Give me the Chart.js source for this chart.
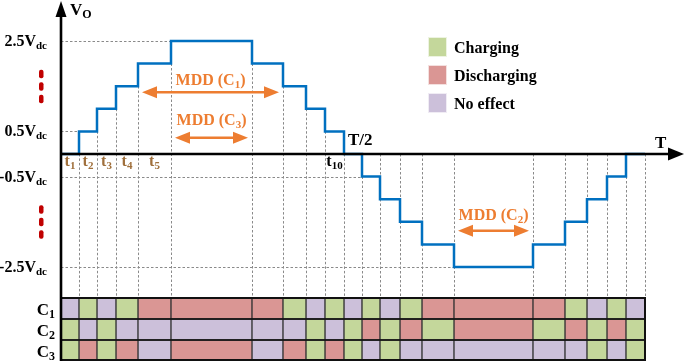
<!DOCTYPE html>
<html><head><meta charset="utf-8">
<script src="https://cdn.jsdelivr.net/npm/chart.js@4"></script>
<style>html,body{margin:0;padding:0;background:#fff}canvas{display:block}</style>
</head><body>
<canvas id="c" width="685" height="362"></canvas>
<script>
// ---------- data ----------
const times = [0,18,36,55,77,110,191,222,245,264,283,301,319,339,361,393,472,504,526,546,565,584];
const levels = [0,0.5,1,1.5,2,2.5,2,1.5,1,0.5,0,-0.5,-1,-1.5,-2,-2.5,-2,-1.5,-1,-0.5,0];
const rowNames = ['C1','C2','C3'];
const rowLabels = ['C_1','C_2','C_3'];
const c1States = ['N','C','N','C','D','D','D','C','N','C','N','C','N','C','D','D','D','C','N','C','N'];
const c2States = ['C','N','C','N','N','N','N','N','C','N','C','D','C','D','C','D','C','D','C','D','C'];
const c3States = ['C','D','C','D','N','D','N','D','C','D','C','N','C','N','N','N','N','N','C','N','C'];
const stateKeys = ['C','D','N'];
const legendLabels = ['Charging','Discharging','No effect'];
const yTickValues = [2.5,0.5,-0.5,-2.5];
const yTickLabels = ['2.5V_dc','0.5V_dc','-0.5V_dc','-2.5V_dc'];
const intervalLabels = ['t_1','t_2','t_3','t_4','t_5','','','','','t_10'];
const xMarkLabels = ['T/2','T'];
const xMarkIndex = [10,21];
const mddLabels = ['MDD (C_1_)','MDD (C_3_)','MDD (C_2_)'];
const mddFrom = [4,5,15];
const mddTo = [7,6,16];

// ---------- styles / layout ----------
const stateColors = {C:'#C4D79B', D:'#DA9694', N:'#CCC0DA'};
const ORANGE = '#ED7D31', BLUE = '#0070C0', BROWN = '#A0703C', DARKRED = '#C00000';
const mddArrowY = [1.365, 0.36, -1.70];
const mddTextY = [1.53, 0.64, -1.46];
const FONT = '"Liberation Serif","Times New Roman",serif';

const rows = [c1States, c2States, c3States];
function cellsFor(key){
  const out = [];
  rows.forEach((st, r) => st.forEach((s, i) => {
    if (s === key) out.push({x:[times[i], times[i+1]], y: rowNames[r]});
  }));
  return out;
}
const wave = levels.map((v, i) => ({x: times[i], y: v}));
wave.push({x: times[times.length-1], y: levels[levels.length-1]});

function rich(ctx, str, x, y, size, align, color){
  const parts = str.split('_');
  const sub = Math.round(size * 0.68);
  let w = 0;
  const segs = parts.map((t, i) => {
    const isSub = i % 2 === 1;
    ctx.font = 'bold ' + (isSub ? sub : size) + 'px ' + FONT;
    const m = ctx.measureText(t).width; w += m;
    return {t, isSub, m};
  });
  let cx = align === 'right' ? x - w : align === 'center' ? x - w/2 : x;
  ctx.fillStyle = color; ctx.textAlign = 'left'; ctx.textBaseline = 'alphabetic';
  segs.forEach(s => {
    ctx.font = 'bold ' + (s.isSub ? sub : size) + 'px ' + FONT;
    ctx.fillText(s.t, cx, y + (s.isSub ? Math.round(size*0.18) : 0));
    cx += s.m;
  });
}
function seg(ctx, x1, y1, x2, y2){ ctx.beginPath(); ctx.moveTo(x1,y1); ctx.lineTo(x2,y2); ctx.stroke(); }
function tri(ctx, pts){ ctx.beginPath(); ctx.moveTo(pts[0],pts[1]); ctx.lineTo(pts[2],pts[3]); ctx.lineTo(pts[4],pts[5]); ctx.closePath(); ctx.fill(); }

const deco = {
  id: 'deco',
  beforeDatasetsDraw(chart){
    const ctx = chart.ctx, X = chart.scales.x, Y = chart.scales.y;
    ctx.save();
    ctx.strokeStyle = '#8a8a8a'; ctx.lineWidth = 1; ctx.setLineDash([2.5, 2]);
    yTickValues.forEach(v => {
      const i = levels.indexOf(v);
      const py = Math.round(Y.getPixelForValue(v)) + 0.5;
      seg(ctx, X.getPixelForValue(0), py, X.getPixelForValue(times[i]), py);
    });
    for (let k = 1; k < times.length; k++){
      const top = Math.max(0, levels[k-1], k < levels.length ? levels[k] : 0);
      const px = Math.round(X.getPixelForValue(times[k])) + 0.5;
      seg(ctx, px, Y.getPixelForValue(top), px, Y.bottom);
    }
    ctx.restore();
  },
  afterDatasetsDraw(chart){
    const ctx = chart.ctx, ca = chart.chartArea;
    const X = chart.scales.x, Y = chart.scales.y, C = chart.scales.yc;
    const x0 = X.getPixelForValue(0), y0 = Y.getPixelForValue(0);
    const xr = X.getPixelForValue(times[times.length-1]);
    ctx.save();
    // cell grid lines
    ctx.strokeStyle = '#111'; ctx.lineWidth = 1.5;
    for (let r = 1; r < rowNames.length; r++){
      const py = (C.getPixelForValue(r-1) + C.getPixelForValue(r)) / 2;
      seg(ctx, x0, py, xr, py);
    }
    ctx.lineWidth = 2;
    ctx.strokeRect(x0, C.top, xr - x0, C.bottom - C.top - 1);
    // axes
    ctx.strokeStyle = '#000'; ctx.fillStyle = '#000'; ctx.lineWidth = 2.6;
    seg(ctx, x0, ca.top + 12, x0, C.bottom);
    seg(ctx, x0, y0, ca.right - 12, y0);
    tri(ctx, [x0, ca.top - 1, x0 - 5.5, ca.top + 15, x0 + 5.5, ca.top + 15]);
    tri(ctx, [ca.right, y0, ca.right - 16, y0 - 6.5, ca.right - 16, y0 + 6.5]);
    // axis titles
    rich(ctx, 'V_O', x0 + 9, 15, 17, 'left', '#000');
    xMarkLabels.forEach((t, i) => {
      const px = X.getPixelForValue(times[xMarkIndex[i]]);
      rich(ctx, t, px + (i === 0 ? 4 : 10), y0 - (i === 0 ? 9 : 6), 17, 'left', '#000');
    });
    // y tick labels
    yTickValues.forEach((v, i) => rich(ctx, yTickLabels[i], 47, Y.getPixelForValue(v) + 5, 16, 'right', '#000'));
    // red vertical ellipses
    ctx.fillStyle = DARKRED;
    [1.5, -1.5].forEach(v => {
      const cy = Y.getPixelForValue(v);
      [-12.5, 0, 12.5].forEach(d => {
        ctx.beginPath();
        if (ctx.roundRect) ctx.roundRect(39, cy + d - 4, 4.5, 8.5, 2); else ctx.rect(39, cy + d - 4, 4.5, 8.5);
        ctx.fill();
      });
    });
    // interval labels
    intervalLabels.forEach((t, i) => {
      if (!t) return;
      const cx = (X.getPixelForValue(times[i]) + X.getPixelForValue(times[i+1])) / 2;
      rich(ctx, t, cx, y0 + 12, 16, 'center', i === 9 ? '#000' : BROWN);
    });
    // row labels
    rowLabels.forEach((t, r) => rich(ctx, t, 55, C.getPixelForValue(r) + 6, 17, 'right', '#000'));
    // legend
    stateKeys.forEach((k, i) => {
      const cy = 47 + i * 28;
      ctx.fillStyle = stateColors[k];
      ctx.fillRect(428, cy - 10, 19, 20);
      ctx.strokeStyle = 'rgba(255,255,255,0.7)'; ctx.lineWidth = 1;
      ctx.strokeRect(428.5, cy - 9.5, 18, 19);
      rich(ctx, legendLabels[i], 454, cy + 5.5, 16, 'left', '#000');
    });
    // MDD annotations
    mddLabels.forEach((t, i) => {
      const a = X.getPixelForValue(times[mddFrom[i]]) + 4;
      const b = X.getPixelForValue(times[mddTo[i]]) - 4;
      const ay = Y.getPixelForValue(mddArrowY[i]);
      ctx.strokeStyle = ORANGE; ctx.fillStyle = ORANGE; ctx.lineWidth = 2.5;
      seg(ctx, a + 10, ay, b - 10, ay);
      tri(ctx, [a, ay, a + 15, ay - 6, a + 15, ay + 6]);
      tri(ctx, [b, ay, b - 15, ay - 6, b - 15, ay + 6]);
      rich(ctx, t, (a + b) / 2, Y.getPixelForValue(mddTextY[i]), 16, 'center', ORANGE);
    });
    ctx.restore();
  }
};

const hidden = {ticks:{display:false}, grid:{display:false}, border:{display:false}};
const zeroW = s => { s.width = 0; s.paddingTop = 0; s.paddingBottom = 0; };
const zeroH = s => { s.height = 0; s.paddingLeft = 0; s.paddingRight = 0; };
new Chart(document.getElementById('c'), {
  type: 'line',
  data: {
    datasets: [
      {type:'line', label:'Vo', data: wave, xAxisID:'x', yAxisID:'y', stepped: true,
       borderColor: BLUE, borderWidth: 2.5, pointRadius: 0, fill: false, order: 0},
      ...stateKeys.map((k, i) => ({
        type:'bar', label: legendLabels[i], data: cellsFor(k), indexAxis:'y',
        xAxisID:'x', yAxisID:'yc', grouped:false, barPercentage:1, categoryPercentage:1,
        backgroundColor: stateColors[k], borderColor:'#333', borderWidth:1, borderSkipped:false, order: 1
      }))
    ]
  },
  options: {
    responsive:false, animation:false, devicePixelRatio:1,
    layout:{padding:{left:61, top:2, right:1, bottom:1}},
    plugins:{legend:{display:false}, tooltip:{enabled:false}},
    scales:{
      x:{type:'linear', min:0, max:623, afterFit: zeroH, ...hidden},
      yc:{type:'category', labels: rowNames, offset:true, position:'left', stack:'v', stackWeight:63, weight:1, afterFit: zeroW, ...hidden},
      y:{type:'linear', min:-3.186, max:3.363, position:'left', stack:'v', stackWeight:296, weight:2, afterFit: zeroW, ...hidden}
    }
  },
  plugins:[deco]
});
</script>
</body></html>
